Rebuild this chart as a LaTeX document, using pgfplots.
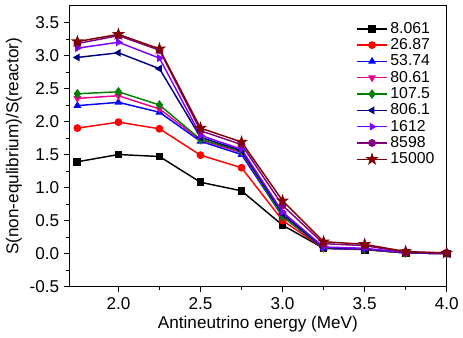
\documentclass[border=0pt]{standalone}
\usepackage{pgfplots}
\pgfplotsset{compat=1.18}
\usepackage{fontspec}
\setmainfont{Liberation Sans}
\definecolor{cnavy}{RGB}{0,0,128}
\definecolor{cviolet}{RGB}{128,0,255}
\definecolor{cpurple}{RGB}{128,0,128}
\definecolor{cdarkred}{RGB}{128,0,0}
\definecolor{cgreen}{RGB}{0,128,0}
\pgfdeclareplotmark{fstar}{%
  \pgfpathmoveto{\pgfpointpolar{90}{1.4\pgfplotmarksize}}%
  \pgfpathlineto{\pgfpointpolar{126}{0.55\pgfplotmarksize}}%
  \pgfpathlineto{\pgfpointpolar{162}{1.4\pgfplotmarksize}}%
  \pgfpathlineto{\pgfpointpolar{198}{0.55\pgfplotmarksize}}%
  \pgfpathlineto{\pgfpointpolar{234}{1.4\pgfplotmarksize}}%
  \pgfpathlineto{\pgfpointpolar{270}{0.55\pgfplotmarksize}}%
  \pgfpathlineto{\pgfpointpolar{306}{1.4\pgfplotmarksize}}%
  \pgfpathlineto{\pgfpointpolar{342}{0.55\pgfplotmarksize}}%
  \pgfpathlineto{\pgfpointpolar{18}{1.4\pgfplotmarksize}}%
  \pgfpathlineto{\pgfpointpolar{54}{0.55\pgfplotmarksize}}%
  \pgfpathclose\pgfusepathqfillstroke}
\begin{document}
\begin{tikzpicture}
\begin{axis}[
  scale only axis, width=286.5pt, height=213pt,
  xmin=1.7, xmax=4.0, ymin=-0.5, ymax=3.75,
  xtick={2.0,2.5,3.0,3.5,4.0}, ytick={-0.5,0,0.5,1,1.5,2,2.5,3,3.5},
  minor x tick num=1, minor y tick num=1,
  xtick pos=bottom, ytick pos=left, tick align=outside,
  major tick length=4pt, minor tick length=2.5pt,
  every tick/.style={black, line width=0.6pt},
  axis line style={line width=0.8pt},
  /pgf/number format/assume math mode=true,
  /pgf/number format/.cd, fixed, fixed zerofill, precision=1, /pgfplots/.cd,
  tick label style={font=\fontsize{13}{15}\selectfont},
  label style={font=\fontsize{13}{15}\selectfont},
  xticklabel style={yshift=-1pt},
  xlabel={Antineutrino energy (MeV)},
  ylabel={S(non-equlibrium)/S(reactor)},
  xlabel style={yshift=2pt},
  ylabel style={yshift=-1pt},
  every axis plot/.append style={line width=1.1pt, mark size=2.4pt},
  legend style={at={(rel axis cs:0.76,0.952)}, anchor=north west, draw=none, fill=none,
    font=\fontsize{12}{13}\selectfont, row sep=-1.5pt, inner sep=0pt,
    /tikz/every even column/.append style={column sep=2pt}},
  legend cell align=left,
  legend image code/.code={\draw[#1,line width=1.1pt,mark repeat=2,mark phase=2] plot coordinates {(0cm,0cm) (0.4cm,0cm) (0.8cm,0cm)};},
]
\addplot[black, mark=square*] coordinates {(1.75,1.39)(2.0,1.50)(2.25,1.47)(2.5,1.08)(2.75,0.95)(3.0,0.43)(3.25,0.08)(3.5,0.06)(3.75,0.01)(4.0,0.0)};
\addlegendentry{8.061}
\addplot[red, mark=*] coordinates {(1.75,1.90)(2.0,1.99)(2.25,1.89)(2.5,1.49)(2.75,1.30)(3.0,0.50)(3.25,0.08)(3.5,0.065)(3.75,0.01)(4.0,0.0)};
\addlegendentry{26.87}
\addplot[blue, mark=triangle*] coordinates {(1.75,2.24)(2.0,2.29)(2.25,2.14)(2.5,1.70)(2.75,1.50)(3.0,0.56)(3.25,0.08)(3.5,0.065)(3.75,0.01)(4.0,0.0)};
\addlegendentry{53.74}
\addplot[magenta, mark=triangle*, mark options={rotate=180}] coordinates {(1.75,2.35)(2.0,2.39)(2.25,2.19)(2.5,1.72)(2.75,1.53)(3.0,0.58)(3.25,0.085)(3.5,0.065)(3.75,0.01)(4.0,0.0)};
\addlegendentry{80.61}
\addplot[cgreen, mark=diamond*, mark size=2.8pt] coordinates {(1.75,2.42)(2.0,2.45)(2.25,2.25)(2.5,1.73)(2.75,1.55)(3.0,0.56)(3.25,0.09)(3.5,0.07)(3.75,0.01)(4.0,0.0)};
\addlegendentry{107.5}
\addplot[cnavy, mark=triangle*, mark options={rotate=90}] coordinates {(1.75,2.97)(2.0,3.04)(2.25,2.80)(2.5,1.76)(2.75,1.56)(3.0,0.60)(3.25,0.09)(3.5,0.07)(3.75,0.015)(4.0,0.0)};
\addlegendentry{806.1}
\addplot[cviolet, mark=triangle*, mark options={rotate=-90}] coordinates {(1.75,3.11)(2.0,3.20)(2.25,2.96)(2.5,1.79)(2.75,1.58)(3.0,0.63)(3.25,0.10)(3.5,0.08)(3.75,0.015)(4.0,0.005)};
\addlegendentry{1612}
\addplot[cpurple, mark=*] coordinates {(1.75,3.18)(2.0,3.30)(2.25,3.08)(2.5,1.86)(2.75,1.65)(3.0,0.73)(3.25,0.15)(3.5,0.12)(3.75,0.02)(4.0,0.01)};
\addlegendentry{8598}
\addplot[cdarkred, mark=fstar, mark size=2.5pt] coordinates {(1.75,3.21)(2.0,3.32)(2.25,3.10)(2.5,1.90)(2.75,1.69)(3.0,0.80)(3.25,0.18)(3.5,0.14)(3.75,0.03)(4.0,0.01)};
\addlegendentry{15000}
\end{axis}
\path ([shift={(-52.5pt,-39pt)}]current axis.south west) rectangle ([shift={(8.25pt,4.5pt)}]current axis.north east);
\end{tikzpicture}
\end{document}
